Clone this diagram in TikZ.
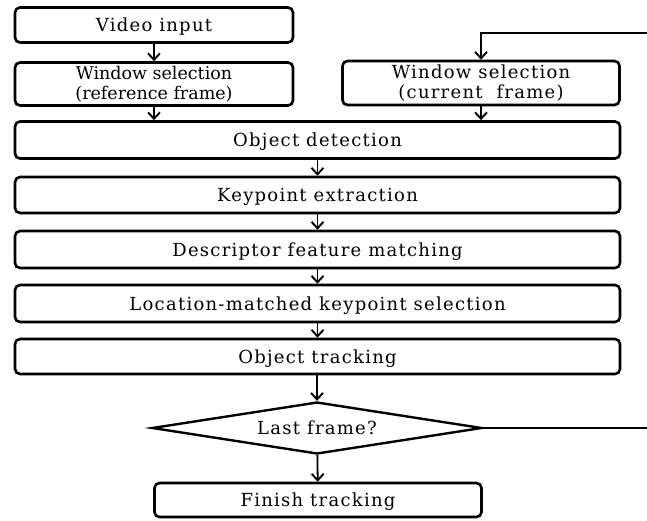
\documentclass[tikz,border=0pt]{standalone}
\usepackage{fontspec}
\setmainfont[LetterSpace=7]{DejaVu Serif}
\newfontfamily\tightserif{DejaVu Serif}
\usetikzlibrary{shapes.geometric,arrows.meta}
\begin{document}
\begin{tikzpicture}[x=1pt,y=-1pt,
  box/.style={draw,line width=2.6pt,rounded corners=5pt,inner sep=0pt,align=center,font=\fontsize{18}{20}\selectfont},
  oneline/.style={text height=16pt,text depth=3pt},
  dec/.style={draw,diamond,line width=2.4pt,inner sep=0pt,aspect=6.3,minimum width=330pt,minimum height=52pt,font=\fontsize{18}{20}\selectfont,text height=16pt,text depth=3pt},
  conn/.style={line width=1.8pt,-{Straight Barb[length=6.5pt,width=12pt,line width=1.9pt]}},
  plain/.style={line width=1.4pt}]
\useasboundingbox (0,0) rectangle (647,520);
\node[box,oneline,minimum width=278pt,minimum height=35pt] (vi) at (154,25) {Video input};
\node[box,minimum width=278pt,minimum height=43pt,font=\tightserif\fontsize{17.5}{20}\selectfont] (wr) at (154,84) {Window selection\\(reference frame)};
\node[box,minimum width=277pt,minimum height=44pt] (wc) at (481,83) {Window selection\\(current\ \ frame)};
\node[box,oneline,minimum width=605pt,minimum height=37pt] (od) at (317.5,140) {Object detection};
\node[box,oneline,minimum width=605pt,minimum height=36pt] (ke) at (317.5,195) {Keypoint extraction};
\node[box,oneline,minimum width=605pt,minimum height=37pt] (df) at (317.5,249.5) {Descriptor feature matching};
\node[box,oneline,minimum width=605pt,minimum height=37pt] (lm) at (317.5,303.5) {Location-matched keypoint selection};
\node[box,oneline,minimum width=605pt,minimum height=35pt] (ot) at (317.5,356.5) {Object tracking};
\node[dec] (lf) at (317,428) {Last frame?};
\node[box,oneline,minimum width=327pt,minimum height=34pt] (ft) at (318,500) {Finish tracking};
\coordinate (e1) at (647,428);
\coordinate (e2) at (647,33);
\draw[conn] (vi) -- (wr);
\draw[conn] (wr.south) -- (wr.south |- od.north);
\draw[conn] (wc.south) -- (wc.south |- od.north);
\draw[conn] (od) -- (ke);
\draw[conn] (ke) -- (df);
\draw[conn] (df) -- (lm);
\draw[conn] (lm) -- (ot);
\draw[conn] (ot.south -| lf.north) -- (lf.north);
\draw[conn] (lf) -- (ft);
\draw[plain] (lf.east) -- (e1);
\draw[conn,line width=1.4pt] (e2) -| (wc.north);
\end{tikzpicture}
\end{document}
